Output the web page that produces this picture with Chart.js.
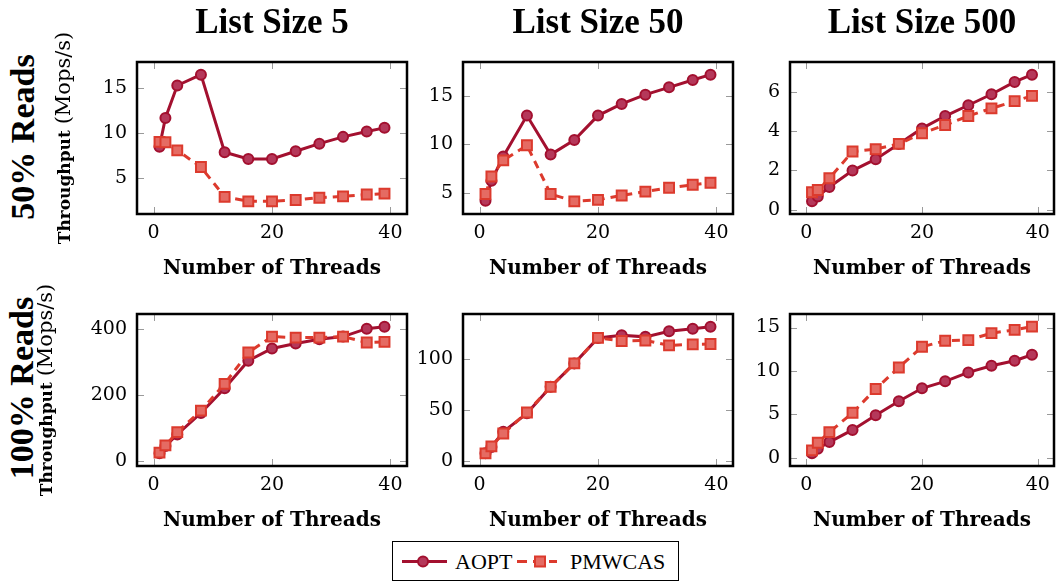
<!DOCTYPE html>
<html>
<head>
<meta charset="utf-8">
<script src="https://cdn.jsdelivr.net/npm/chart.js@4.4.0/dist/chart.umd.min.js"></script>
<style>
  body { margin: 0; background: #fff; width: 1063px; height: 581px; overflow: hidden; position: relative; }
  canvas { position: absolute; }
  .row-label { position: absolute; font: bold 34px "Liberation Serif", serif; white-space: nowrap;
               line-height: 34px; transform: translate(-50%, -50%) rotate(-90deg); }
  #legend { position: absolute; left: 392px; top: 541px; }
</style>
</head>
<body>
<div class="row-label" style="left:23px;top:137px">50% Reads</div>
<div class="row-label" style="left:22px;top:388px">100% Reads</div>

<svg id="legend" width="287" height="40">
  <rect x="0.5" y="0.5" width="286" height="39" fill="#fff" stroke="#000" stroke-width="1"/>
  <line x1="10" y1="20.5" x2="55" y2="20.5" stroke="#a3102f" stroke-width="3"/>
  <circle cx="31" cy="20.5" r="5" fill="#b5385a" stroke="#a3102f" stroke-width="2"/>
  <text x="63" y="28" font-family="Liberation Serif, serif" font-size="22">AOPT</text>
  <line x1="125" y1="20.5" x2="165" y2="20.5" stroke="#dc3a2d" stroke-width="3" stroke-dasharray="10,6"/>
  <rect x="143" y="15.5" width="10" height="10" fill="#e56b63" stroke="#dc3a2d" stroke-width="2"/>
  <text x="178" y="28" font-family="Liberation Serif, serif" font-size="22">PMWCAS</text>
</svg>

<script>
// x values (number of threads)
const threads = [1, 2, 4, 8, 12, 16, 20, 24, 28, 32, 36, 39];
const xTicks = [0, 20, 40];

// 50% reads
const aopt50_5    = [8.5, 11.7, 15.3, 16.5, 7.9, 7.15, 7.15, 8.0, 8.85, 9.6, 10.2, 10.6];
const pmwcas50_5  = [9.05, 9.0, 8.1, 6.25, 2.95, 2.45, 2.45, 2.6, 2.85, 3.0, 3.2, 3.3];
const aopt50_50   = [4.2, 6.25, 8.75, 12.95, 8.95, 10.45, 12.95, 14.15, 15.1, 15.85, 16.6, 17.15];
const pmwcas50_50 = [4.9, 6.7, 8.35, 9.9, 4.9, 4.15, 4.3, 4.75, 5.15, 5.55, 5.85, 6.05];
const aopt50_500   = [0.42, 0.67, 1.15, 1.99, 2.57, 3.35, 4.14, 4.77, 5.32, 5.88, 6.51, 6.88];
const pmwcas50_500 = [0.88, 1.0, 1.6, 2.96, 3.08, 3.35, 3.89, 4.31, 4.77, 5.16, 5.53, 5.8];

// 100% reads
const aopt100_5    = [23, 45, 80, 145, 220, 303, 340, 355, 368, 376, 400, 406];
const pmwcas100_5  = [25, 47, 87, 152, 233, 328, 376, 373, 373, 376, 358, 360];
const aopt100_50   = [8, 14, 29, 47, 73, 96, 121, 123.5, 122, 127.5, 130, 132];
const pmwcas100_50 = [7.8, 14.6, 27.3, 47.9, 73, 96, 121, 118, 118.5, 113.7, 114.6, 115];
const aopt100_500   = [0.5, 1.03, 1.8, 3.2, 4.9, 6.5, 8.0, 8.8, 9.83, 10.6, 11.17, 11.86];
const pmwcas100_500 = [0.84, 1.72, 2.94, 5.17, 7.92, 10.4, 12.78, 13.47, 13.55, 14.35, 14.73, 15.1];

const colTitles = ['List Size 5', 'List Size 50', 'List Size 500'];
const yTicks50  = [[5, 10, 15], [5, 10, 15], [0, 2, 4, 6]];
const yTicks100 = [[0, 200, 400], [0, 50, 100], [0, 5, 10, 15]];

const panels = [
  { row: 0, col: 0, aopt: aopt50_5,    pmw: pmwcas50_5,    ticks: yTicks50[0] },
  { row: 0, col: 1, aopt: aopt50_50,   pmw: pmwcas50_50,   ticks: yTicks50[1] },
  { row: 0, col: 2, aopt: aopt50_500,  pmw: pmwcas50_500,  ticks: yTicks50[2] },
  { row: 1, col: 0, aopt: aopt100_5,   pmw: pmwcas100_5,   ticks: yTicks100[0] },
  { row: 1, col: 1, aopt: aopt100_50,  pmw: pmwcas100_50,  ticks: yTicks100[1] },
  { row: 1, col: 2, aopt: aopt100_500, pmw: pmwcas100_500, ticks: yTicks100[2] }
];

// plot box geometry (pixels)
const colBox = [[137, 411], [463, 737], [790, 1061]];
const rowBox = [{ top: 0, y0: 62, y1: 214, bottom: 281 }, { top: 250, y0: 314, y1: 466, bottom: 533 }];
const colLeft = [0, 405, 733];
const colRight = [416, 742, 1063];
const yTitleBaseline = [70, 52];   // x of the rotated y title's baseline, per row

const AOPT_LINE = '#a3102f', AOPT_FILL = '#b5385a';
const PMW_LINE = '#dc3a2d', PMW_FILL = '#e56b63';

// pgfplots style: ticks inside on all four sides and a thick frame
const framePlugin = {
  id: 'frame',
  beforeDatasetsDraw(chart) {
    const { ctx, chartArea: a, scales: { x, y } } = chart;
    ctx.save();
    ctx.strokeStyle = '#9a9a9a';
    ctx.lineWidth = 1;
    ctx.beginPath();
    x.ticks.forEach(t => {
      const px = Math.round(x.getPixelForValue(t.value)) + 0.5;
      ctx.moveTo(px, a.bottom); ctx.lineTo(px, a.bottom - 7);
      ctx.moveTo(px, a.top); ctx.lineTo(px, a.top + 7);
    });
    y.ticks.forEach(t => {
      const py = Math.round(y.getPixelForValue(t.value)) + 0.5;
      ctx.moveTo(a.left, py); ctx.lineTo(a.left + 7, py);
      ctx.moveTo(a.right, py); ctx.lineTo(a.right - 7, py);
    });
    ctx.stroke();
    ctx.restore();
  },
  afterDatasetsDraw(chart) {
    const { ctx, chartArea: a } = chart;
    ctx.save();
    ctx.strokeStyle = '#000';
    ctx.lineWidth = 2.5;
    ctx.strokeRect(a.left, a.top, a.right - a.left, a.bottom - a.top);
    ctx.restore();
  }
};

// y title: bold "Throughput" followed by regular "(Mops/s)"
const yTitlePlugin = {
  id: 'yTitle',
  afterDraw(chart, args, opts) {
    if (!opts.show) return;
    const { ctx, chartArea: a } = chart;
    const boldFont = 'bold 17px "DejaVu Serif"';
    const regFont = '21px "DejaVu Serif"';
    ctx.save();
    ctx.font = boldFont;
    const w1 = ctx.measureText('Throughput ').width;
    ctx.font = regFont;
    const w2 = ctx.measureText('(Mops/s)').width;
    ctx.translate(opts.baseline, (a.top + a.bottom) / 2);
    ctx.rotate(-Math.PI / 2);
    ctx.fillStyle = '#000';
    ctx.textBaseline = 'alphabetic';
    ctx.textAlign = 'left';
    const start = -(w1 + w2) / 2;
    ctx.font = boldFont;
    ctx.fillText('Throughput ', start, 0);
    ctx.font = regFont;
    ctx.fillText('(Mops/s)', start + w1, 0);
    ctx.restore();
  }
};

function range(values) {
  const lo = Math.min(...values), hi = Math.max(...values);
  const pad = (hi - lo) * 0.1;
  return [lo - pad, hi + pad];
}

panels.forEach(p => {
  const r = rowBox[p.row];
  const [x0, x1] = colBox[p.col];
  const left = colLeft[p.col];
  const right = colRight[p.col];
  const cv = document.createElement('canvas');
  cv.width = right - left;
  cv.height = r.bottom - r.top;
  cv.style.left = left + 'px';
  cv.style.top = r.top + 'px';
  document.body.appendChild(cv);

  const [xMin, xMax] = range(threads);
  const [yMin, yMax] = range(p.aopt.concat(p.pmw));

  new Chart(cv.getContext('2d'), {
    type: 'line',
    data: {
      datasets: [
        {
          label: 'AOPT',
          data: threads.map((t, i) => ({ x: t, y: p.aopt[i] })),
          borderColor: AOPT_LINE, backgroundColor: AOPT_FILL,
          borderWidth: 3, pointRadius: 5, pointBorderWidth: 2,
          pointBackgroundColor: AOPT_FILL, pointBorderColor: AOPT_LINE,
          tension: 0, clip: false, order: 1
        },
        {
          label: 'PMWCAS',
          data: threads.map((t, i) => ({ x: t, y: p.pmw[i] })),
          borderColor: PMW_LINE, backgroundColor: PMW_FILL,
          borderWidth: 3, borderDash: [8, 6],
          pointStyle: 'rect', pointRadius: 7, pointBorderWidth: 2,
          pointBackgroundColor: PMW_FILL, pointBorderColor: PMW_LINE,
          tension: 0, clip: false, order: 0
        }
      ]
    },
    options: {
      responsive: false,
      animation: false,
      devicePixelRatio: 1,
      layout: { padding: { left: 0, right: right - x1, top: p.row === 0 ? 0 : r.y0 - r.top, bottom: 0 } },
      plugins: {
        legend: { display: false },
        tooltip: { enabled: false },
        yTitle: { show: p.col === 0, baseline: yTitleBaseline[p.row] - left },
        title: {
          display: p.row === 0,
          text: colTitles[p.col],
          fullSize: false,
          color: '#000',
          font: { family: 'Liberation Serif', size: 35, weight: 'bold' },
          padding: { top: 3.3, bottom: 16.7 }
        }
      },
      scales: {
        x: {
          type: 'linear', min: xMin, max: xMax,
          grid: { display: false, drawTicks: false }, border: { display: false },
          ticks: { color: '#000', padding: 8, maxRotation: 0, font: { family: 'DejaVu Serif', size: 19 } },
          title: {
            display: true, text: 'Number of Threads', color: '#000',
            font: { family: 'DejaVu Serif', size: 20, weight: 'bold' }, padding: 0
          },
          afterBuildTicks: s => { s.ticks = xTicks.map(v => ({ value: v })); },
          afterFit: s => { s.height = r.bottom - r.y1; s.paddingLeft = s.paddingRight = 0; }
        },
        y: {
          type: 'linear', min: yMin, max: yMax,
          grid: { display: false, drawTicks: false }, border: { display: false },
          ticks: { color: '#000', padding: 10, font: { family: 'DejaVu Serif', size: 19 } },
          afterBuildTicks: s => { s.ticks = p.ticks.map(v => ({ value: v })); },
          afterFit: s => { s.width = x0 - left; s.paddingTop = s.paddingBottom = 0; }
        }
      }
    },
    plugins: [framePlugin, yTitlePlugin]
  });
});
</script>
</body>
</html>
